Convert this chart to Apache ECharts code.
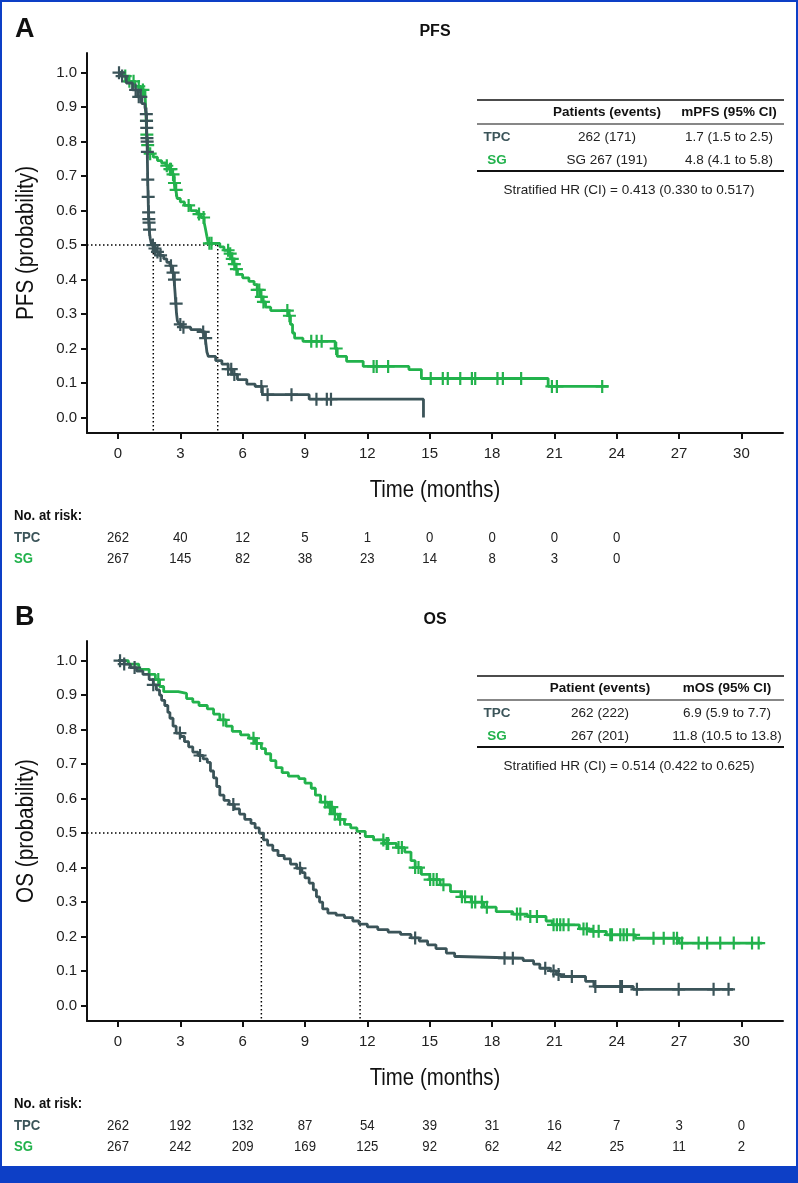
<!DOCTYPE html>
<html><head><meta charset="utf-8">
<script src="https://cdn.jsdelivr.net/npm/echarts@6/dist/echarts.min.js"></script>
<style>
html,body{margin:0;padding:0;background:#fff;}
#c{width:798px;height:1183px;position:absolute;left:0;top:0;}
.b{position:absolute;background:#0d3fc6;}
</style></head><body>
<div id="c"></div>
<div class="b" style="left:0;top:0;width:798px;height:2px"></div>
<div class="b" style="left:0;top:0;width:2px;height:1183px"></div>
<div class="b" style="left:796px;top:0;width:2px;height:1183px"></div>
<div class="b" style="left:0;top:1166px;width:798px;height:17px"></div>
<script>
// ---------- data ----------
const X_TICKS = [0,3,6,9,12,15,18,21,24,27,30];
const Y_TICKS = [0,0.1,0.2,0.3,0.4,0.5,0.6,0.7,0.8,0.9,1.0];

const pfsTpcT = [0,0.15,0.4,0.7,0.95,1.15,1.3,1.36,1.37,1.38,1.39,1.40,1.41,1.42,1.43,1.44,1.45,1.46,1.47,1.48,1.49,1.50,1.55,1.62,1.75,1.85,2.0,2.2,2.35,2.5,2.6,2.7,2.75,2.78,2.82,2.86,2.95,3.1,3.5,4.0,4.2,4.28,4.35,4.7,5.0,5.3,5.5,5.75,6.2,6.6,6.95,9.2,14.7];
const pfsTpcS = [1.0,0.99,0.97,0.95,0.93,0.91,0.90,0.88,0.86,0.84,0.81,0.80,0.77,0.73,0.69,0.665,0.64,0.615,0.595,0.575,0.565,0.545,0.52,0.50,0.49,0.48,0.47,0.46,0.45,0.44,0.42,0.40,0.36,0.33,0.30,0.28,0.27,0.262,0.255,0.248,0.23,0.19,0.177,0.165,0.155,0.14,0.125,0.11,0.097,0.09,0.066,0.053,0.0];
const pfsTpcCensor = [0.05,0.2,0.85,1.0,1.1,1.365,1.375,1.385,1.395,1.405,1.415,1.435,1.455,1.475,1.485,1.495,1.52,1.68,1.78,1.9,2.05,2.55,2.65,2.72,2.8,3.0,3.15,4.1,4.22,5.3,5.45,5.6,6.9,7.2,8.35,9.55,10.05,10.25];

const pfsSgT = [0,0.3,0.5,0.8,1.1,1.3,1.33,1.36,1.38,1.42,1.5,1.7,1.9,2.1,2.3,2.45,2.6,2.7,2.78,2.85,3.0,3.2,3.5,3.8,4.0,4.15,4.2,4.28,4.35,4.9,5.1,5.35,5.45,5.55,5.65,5.75,6.0,6.3,6.55,6.7,6.85,6.95,7.1,7.35,8.2,8.3,8.4,8.5,8.9,10.45,10.55,11.0,11.8,14.0,14.6,20.7,23.6];
const pfsSgS = [1.0,0.99,0.975,0.96,0.95,0.94,0.90,0.86,0.82,0.79,0.765,0.755,0.745,0.738,0.73,0.72,0.705,0.68,0.66,0.635,0.625,0.615,0.60,0.59,0.58,0.565,0.55,0.525,0.505,0.495,0.485,0.475,0.46,0.445,0.43,0.415,0.405,0.395,0.385,0.37,0.35,0.335,0.32,0.31,0.295,0.27,0.245,0.23,0.221,0.20,0.177,0.163,0.148,0.139,0.113,0.09,0.09];
const pfsSgCensor = [0.35,0.55,0.75,1.0,1.2,1.37,1.39,1.43,1.55,2.35,2.5,2.55,2.65,2.72,2.8,3.4,3.9,4.12,4.4,4.5,5.3,5.4,5.5,5.6,5.7,6.7,6.8,6.9,7.0,8.15,8.25,9.3,9.56,9.8,10.5,12.3,12.45,13.0,15.05,15.63,15.87,16.47,17.03,17.19,18.26,18.52,19.4,20.88,21.12,23.3];

const osTpcT = [0,0.3,0.6,0.9,1.2,1.5,1.7,1.85,2.0,2.1,2.25,2.4,2.5,2.65,2.8,3.0,3.2,3.4,3.6,3.85,4.1,4.3,4.45,4.6,4.75,4.9,5.1,5.35,5.6,5.85,6.1,6.4,6.6,6.8,7.0,7.2,7.45,7.7,8.0,8.3,8.6,8.85,9.0,9.2,9.4,9.55,9.7,9.85,10.1,10.5,10.9,11.3,11.6,12.0,12.5,13.0,13.6,14.1,14.5,14.9,15.3,15.8,16.2,16.4,19.5,20.0,20.3,20.8,21.1,21.3,22.5,22.9,24.8,29.6];
const osTpcS = [1.0,0.99,0.98,0.97,0.96,0.945,0.93,0.915,0.90,0.885,0.87,0.85,0.833,0.81,0.79,0.78,0.765,0.75,0.735,0.725,0.715,0.705,0.68,0.66,0.635,0.61,0.595,0.583,0.57,0.555,0.54,0.528,0.515,0.50,0.48,0.465,0.45,0.435,0.425,0.41,0.398,0.385,0.37,0.355,0.335,0.315,0.30,0.28,0.268,0.262,0.255,0.245,0.236,0.228,0.22,0.213,0.206,0.196,0.187,0.176,0.165,0.152,0.142,0.137,0.13,0.12,0.108,0.10,0.09,0.084,0.07,0.055,0.047,0.047];
const osTpcCensor = [0.1,0.3,0.8,1.7,2.98,3.95,5.55,8.76,14.3,18.6,19.0,20.56,20.96,21.2,21.84,22.97,24.17,24.25,24.97,26.98,28.66,29.38];

const osSgT = [0,0.5,1.0,1.5,1.8,2.0,2.2,2.9,3.3,3.6,3.9,4.3,4.6,4.9,5.2,5.5,5.9,6.3,6.6,6.9,7.1,7.35,7.6,7.9,8.2,8.7,9.0,9.3,9.5,9.75,10.1,10.4,10.6,10.9,11.2,11.5,11.9,12.3,12.8,13.4,13.8,14.1,14.3,14.6,15.0,15.5,16.0,16.5,17.0,17.6,18.2,19.0,19.7,20.6,20.9,22.2,22.7,23.5,24.9,27.0,31.0];
const osSgS = [1.0,0.99,0.975,0.96,0.945,0.925,0.91,0.905,0.89,0.88,0.87,0.86,0.845,0.828,0.81,0.795,0.785,0.775,0.76,0.745,0.73,0.71,0.69,0.675,0.665,0.658,0.645,0.63,0.61,0.59,0.575,0.555,0.54,0.525,0.515,0.505,0.49,0.48,0.47,0.458,0.445,0.42,0.40,0.38,0.365,0.35,0.33,0.315,0.30,0.285,0.272,0.265,0.258,0.245,0.234,0.222,0.215,0.205,0.195,0.181,0.181];
const osSgCensor = [1.94,5.07,6.52,6.68,9.97,10.2,10.29,10.44,10.69,12.77,12.93,13.0,13.5,13.66,14.3,14.46,15.02,15.18,15.34,15.66,16.55,16.7,17.03,17.19,17.51,17.75,19.2,19.36,19.84,20.16,20.96,21.12,21.28,21.44,21.68,22.4,22.56,22.88,23.13,23.69,23.77,24.17,24.33,24.49,24.81,25.77,26.26,26.74,26.9,27.14,27.94,28.35,28.98,29.63,30.51,30.83];

const pfsMedians = [1.7, 4.8];
const osMedians = [6.9, 11.65];
const MEDIAN_LEVEL = 0.5;

const riskPfsTimes = [0,3,6,9,12,15,18,21,24];
const riskPfsTpc = [262,40,12,5,1,0,0,0,0];
const riskPfsSg  = [267,145,82,38,23,14,8,3,0];
const riskOsTimes = [0,3,6,9,12,15,18,21,24,27,30];
const riskOsTpc = [262,192,132,87,54,39,31,16,7,3,0];
const riskOsSg  = [267,242,209,169,125,92,62,42,25,11,2];

const pfsHeader = ['Patients (events)','mPFS (95% CI)'];
const pfsRows = [['TPC','262 (171)','1.7 (1.5 to 2.5)'],['SG','SG 267 (191)','4.8 (4.1 to 5.8)']];
const pfsHR = 'Stratified HR (CI) = 0.413 (0.330 to 0.517)';
const osHeader = ['Patient (events)','mOS (95% CI)'];
const osRows = [['TPC','262 (222)','6.9 (5.9 to 7.7)'],['SG','267 (201)','11.8 (10.5 to 13.8)']];
const osHR = 'Stratified HR (CI) = 0.514 (0.422 to 0.625)';

// ---------- styling ----------
const C_TPC = '#3b5459';
const C_SG = '#22b24c';
const SANS = "'Liberation Sans', Arial, Helvetica, sans-serif";
const XMIN = -1.49, XMAX = 32.0, YMIN = -0.045, YMAX = 1.057;
const PLUS = 'path://M-1.1,-6.5H1.1V-1.1H6.5V1.1H1.1V6.5H-1.1V1.1H-6.5V-1.1H-1.1Z';
const COND = 0.85;

function survAt(T,S,t){ let v=S[0]; for(let i=0;i<T.length;i++){ if(T[i]<=t) v=S[i]; } return v; }
function curve(T,S){ return T.map((t,i)=>[t,S[i]]); }

const chart = echarts.init(document.getElementById('c'), null, {renderer:'canvas'});

function axes(gi){
  return {
    x: {type:'value', gridIndex:gi, min:XMIN, max:XMAX,
      axisLine:{show:true,onZero:false,lineStyle:{color:'#111',width:2}},
      axisTick:{show:true,length:6,lineStyle:{color:'#111',width:2},customValues:X_TICKS},
      axisLabel:{customValues:X_TICKS,margin:13,fontSize:15,fontFamily:SANS,color:'#222'},
      splitLine:{show:false}},
    y: {type:'value', gridIndex:gi, min:YMIN, max:YMAX,
      axisLine:{show:true,onZero:false,lineStyle:{color:'#111',width:2}},
      axisTick:{show:true,length:6,lineStyle:{color:'#111',width:2},customValues:Y_TICKS},
      axisLabel:{customValues:Y_TICKS,margin:10,fontSize:15,fontFamily:SANS,color:'#222',formatter:v=>v.toFixed(1)},
      splitLine:{show:false}}
  };
}
const a0 = axes(0), a1 = axes(1);

function kmSeries(gi, T, S, cens, color, z){
  return [
    {type:'line', xAxisIndex:gi, yAxisIndex:gi, step:'end', data:curve(T,S), showSymbol:false, symbol:'none',
      lineStyle:{color:color,width:2.8}, z:z, silent:true},
    {type:'scatter', xAxisIndex:gi, yAxisIndex:gi, data:cens.map(t=>[t,survAt(T,S,t)]), symbol:PLUS, symbolSize:13,
      itemStyle:{color:color,opacity:1}, z:z+1, silent:true}
  ];
}
function medianSeries(gi, meds){
  const ls = {color:'#000',width:1.5,type:[1.5,2.5]};
  const out = [{type:'line', xAxisIndex:gi, yAxisIndex:gi, data:[[XMIN,MEDIAN_LEVEL],[Math.max(...meds),MEDIAN_LEVEL]],
    showSymbol:false, symbol:'none', lineStyle:ls, z:1, silent:true}];
  meds.forEach(m=>out.push({type:'line', xAxisIndex:gi, yAxisIndex:gi, data:[[m,MEDIAN_LEVEL],[m,YMIN]],
    showSymbol:false, symbol:'none', lineStyle:ls, z:1, silent:true}));
  return out;
}

const option = {
  animation:false,
  backgroundColor:'#fff',
  grid:[
    {left:87, right:15, top:53, height:380, containLabel:false},
    {left:87, right:15, top:641, height:380, containLabel:false}
  ],
  xAxis:[a0.x, a1.x],
  yAxis:[a0.y, a1.y],
  series:[
    ...medianSeries(0,pfsMedians),
    ...kmSeries(0,pfsSgT,pfsSgS,pfsSgCensor,C_SG,3),
    ...kmSeries(0,pfsTpcT,pfsTpcS,pfsTpcCensor,C_TPC,5),
    ...medianSeries(1,osMedians),
    ...kmSeries(1,osSgT,osSgS,osSgCensor,C_SG,3),
    ...kmSeries(1,osTpcT,osTpcS,osTpcCensor,C_TPC,5)
  ]
};
chart.setOption(option);

// ---------- annotations ----------
const g = [];
function txt(x,y,s,o,sx){ g.push({type:'text', x:x, y:y, scaleX:sx||1, style:Object.assign({text:s, fill:'#111', font:'13.5px '+SANS, align:'center', verticalAlign:'middle'}, o||{})}); }
function hline(x1,x2,y,w){ g.push({type:'line', shape:{x1:x1,y1:y,x2:x2,y2:y}, style:{stroke:'#111', lineWidth:w}}); }

function panel(gi, letter, title, yTitle, axisY, topY, tableY, header, rows, hr, cols, riskT, riskTpc, riskSg){
  txt(15, topY-23, letter, {font:'bold 27px '+SANS, align:'left'});
  txt(435, topY-21, title, {font:'bold 16px '+SANS});
  g.push({type:'text', x:27, y:(topY+axisY)/2, rotation:Math.PI/2, scaleX:0.9,
    style:{text:yTitle, fill:'#111', font:'23px '+SANS, align:'center', verticalAlign:'middle'}});
  txt(435, axisY+57, 'Time (months)', {font:'24px '+SANS}, COND);
  txt(14, axisY+83, 'No. at risk:', {font:'bold 15.5px '+SANS, align:'left'}, COND);
  txt(14, axisY+105, 'TPC', {font:'bold 15.5px '+SANS, align:'left', fill:C_TPC}, COND);
  txt(14, axisY+126, 'SG', {font:'bold 15.5px '+SANS, align:'left', fill:C_SG}, COND);
  riskT.forEach((t,i)=>{
    const px = chart.convertToPixel({xAxisIndex:gi}, t);
    txt(px, axisY+105, String(riskTpc[i]), {font:'15.5px '+SANS, fill:'#222'}, COND);
    txt(px, axisY+126, String(riskSg[i]), {font:'15.5px '+SANS, fill:'#222'}, COND);
  });
  const y0 = tableY;
  hline(477, 784, y0, 1.5);
  txt(cols[1], y0+12, header[0], {font:'bold 13.5px '+SANS});
  txt(cols[2], y0+12, header[1], {font:'bold 13.5px '+SANS});
  hline(477, 784, y0+24, 1.2);
  rows.forEach((r,i)=>{
    const yy = y0 + 37 + i*23;
    txt(cols[0], yy, r[0], {font:'bold 13.5px '+SANS, fill: i===0?C_TPC:C_SG});
    txt(cols[1], yy, r[1], {fill:'#222'});
    txt(cols[2], yy, r[2], {fill:'#222'});
  });
  hline(477, 784, y0+71, 2);
  txt(629, y0+90, hr, {fill:'#222'});
}
panel(0,'A','PFS','PFS (probability)',433,53,100,pfsHeader,pfsRows,pfsHR,[497,607,729],riskPfsTimes,riskPfsTpc,riskPfsSg);
panel(1,'B','OS','OS (probability)',1021,641,676,osHeader,osRows,osHR,[497,600,727],riskOsTimes,riskOsTpc,riskOsSg);

chart.setOption({graphic:g});
</script>
</body></html>
